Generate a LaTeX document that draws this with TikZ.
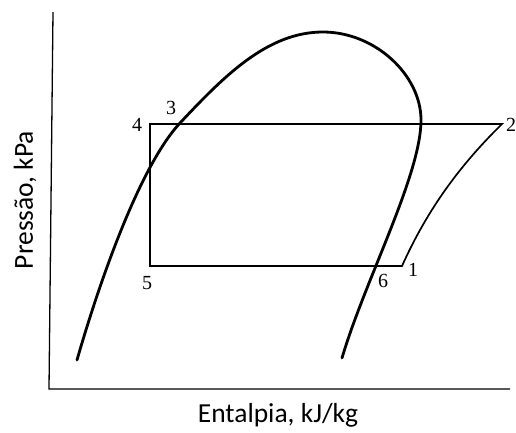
\documentclass[tikz,border=0pt]{standalone}
\usepackage{fontspec}
\setmainfont{Liberation Serif}
\newfontfamily\axisfont{Carlito}
\usetikzlibrary{positioning}

\begin{document}
\begin{tikzpicture}[x=1pt, y=-1pt]

    % Styles for lines and labels
    \tikzset{
        axisline/.style={line width=1.3pt},
        cycleline/.style={line width=1.7pt, line join=miter},
        domeline/.style={line width=2.8pt, line cap=round},
        ptlabel/.style={inner sep=0pt, font=\fontsize{20}{20}\selectfont},
        axislabel/.style={inner sep=0pt, font=\axisfont\fontsize{27.5}{27.5}\selectfont}
    }
    \useasboundingbox (0,0) rectangle (516,432);

    % --- AXES ---
    \coordinate (ytop) at (53,12);
    \coordinate (O) at (49,389);
    \coordinate (xend) at (510,389);
    \draw[axisline] (ytop) -- (O) -- (xend);

    % --- CYCLE POINTS ---
    \coordinate (p1) at (402,266);
    \coordinate (p2) at (502,124);
    \coordinate (p4) at (150,124);
    \coordinate (p5) at (150,266);

    % --- SATURATION DOME ---
    % liquid side up to the peak, then vapour side down
    \coordinate (liqend) at (77,360);
    \coordinate (top) at (323,32);
    \coordinate (vapend) at (342,358);
    \draw[domeline] (liqend) .. controls (100,280) and (140,166) .. (180,123)
        .. controls (225,75) and (268,32) .. (top)
        .. controls (375,32) and (421,75) .. (421,120)
        .. controls (421,175) and (365,280) .. (vapend);

    % --- CYCLE 1-2-4-5 ---
    \draw[cycleline] (p1) .. controls (425,215) and (455,170) .. (p2)
        -- (p4) -- (p5) -- cycle;

    % --- LABELS ---
    \node[ptlabel] (l1) at (413,270) {1};
    \node[ptlabel, anchor=west] (l2) at (506,125) {2};
    \node[ptlabel] (l3) at (171,108) {3};
    \node[ptlabel] (l4) at (137,125) {4};
    \node[ptlabel] (l5) at (147,283) {5};
    \node[ptlabel] (l6) at (383,281) {6};

    \node[axislabel] (xlab) at (278,415) {Entalpia, kJ/kg};
    \node[axislabel, rotate=90] (ylab) at (25,200) {Pressão, kPa};

\end{tikzpicture}
\end{document}
